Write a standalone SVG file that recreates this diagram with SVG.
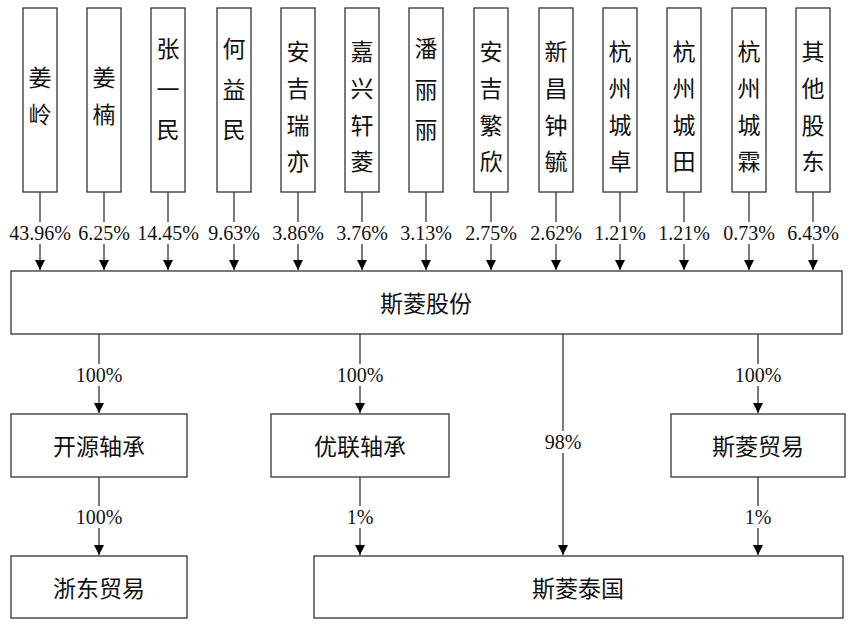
<svg xmlns="http://www.w3.org/2000/svg" width="852" height="624" viewBox="0 0 852 624">
<defs>
<marker id="ah" viewBox="0 0 10 10" refX="10" refY="5" markerWidth="10" markerHeight="10" markerUnits="userSpaceOnUse" orient="auto"><path d="M0,0 L10,5 L0,10 z" fill="#000"/></marker>
<style>
rect{fill:#fff;stroke:#333;stroke-width:1.3}
.c{font-family:"Noto Sans CJK SC",sans-serif;font-size:23px;fill:#111;text-anchor:middle;dominant-baseline:central}
.p{font-family:"Liberation Serif",serif;font-size:20px;fill:#111;text-anchor:middle;dominant-baseline:central}
line{stroke:#333;stroke-width:1.3}
.a{marker-end:url(#ah)}
</style>
</defs>
<rect x="0" y="0" width="852" height="624" style="fill:#fff;stroke:none"/>
<g id="top-nodes">
<g id="n1"><rect x="23" y="8" width="34" height="184"/><text class="c" x="40" y="76">姜</text><text class="c" x="40" y="113">岭</text></g>
<g id="n2"><rect x="87" y="8" width="34" height="184"/><text class="c" x="104" y="76">姜</text><text class="c" x="104" y="113">楠</text></g>
<g id="n3"><rect x="151" y="8" width="34" height="184"/><text class="c" x="168" y="47">张</text><text class="c" x="168" y="88">一</text><text class="c" x="168" y="128">民</text></g>
<g id="n4"><rect x="217" y="8" width="34" height="184"/><text class="c" x="234" y="47">何</text><text class="c" x="234" y="88">益</text><text class="c" x="234" y="128">民</text></g>
<g id="n5"><rect x="281" y="8" width="34" height="184"/><text class="c" x="298" y="50">安</text><text class="c" x="298" y="87">吉</text><text class="c" x="298" y="124">瑞</text><text class="c" x="298" y="160">亦</text></g>
<g id="n6"><rect x="345" y="8" width="34" height="184"/><text class="c" x="362" y="50">嘉</text><text class="c" x="362" y="87">兴</text><text class="c" x="362" y="124">轩</text><text class="c" x="362" y="160">菱</text></g>
<g id="n7"><rect x="409" y="8" width="34" height="184"/><text class="c" x="426" y="47">潘</text><text class="c" x="426" y="88">丽</text><text class="c" x="426" y="128">丽</text></g>
<g id="n8"><rect x="474" y="8" width="34" height="184"/><text class="c" x="491" y="50">安</text><text class="c" x="491" y="87">吉</text><text class="c" x="491" y="124">繁</text><text class="c" x="491" y="160">欣</text></g>
<g id="n9"><rect x="539" y="8" width="34" height="184"/><text class="c" x="556" y="50">新</text><text class="c" x="556" y="87">昌</text><text class="c" x="556" y="124">钟</text><text class="c" x="556" y="160">毓</text></g>
<g id="n10"><rect x="603" y="8" width="34" height="184"/><text class="c" x="620" y="50">杭</text><text class="c" x="620" y="87">州</text><text class="c" x="620" y="124">城</text><text class="c" x="620" y="160">卓</text></g>
<g id="n11"><rect x="667" y="8" width="34" height="184"/><text class="c" x="684" y="50">杭</text><text class="c" x="684" y="87">州</text><text class="c" x="684" y="124">城</text><text class="c" x="684" y="160">田</text></g>
<g id="n12"><rect x="732" y="8" width="34" height="184"/><text class="c" x="749" y="50">杭</text><text class="c" x="749" y="87">州</text><text class="c" x="749" y="124">城</text><text class="c" x="749" y="160">霖</text></g>
<g id="n13"><rect x="796" y="8" width="34" height="184"/><text class="c" x="813" y="50">其</text><text class="c" x="813" y="87">他</text><text class="c" x="813" y="124">股</text><text class="c" x="813" y="160">东</text></g>
</g>
<g id="silin"><rect x="11" y="271" width="831" height="63"/><text class="c" x="426" y="302">斯菱股份</text></g>
<g id="kaiyuan"><rect x="11" y="414" width="176" height="63"/><text class="c" x="99" y="445">开源轴承</text></g>
<g id="youlian"><rect x="271" y="414" width="178" height="63"/><text class="c" x="360" y="445">优联轴承</text></g>
<g id="maoyi"><rect x="671" y="414" width="174" height="63"/><text class="c" x="758" y="445">斯菱贸易</text></g>
<g id="zhedong"><rect x="11" y="556" width="176" height="62"/><text class="c" x="99" y="587">浙东贸易</text></g>
<g id="thai"><rect x="314" y="556" width="529" height="62"/><text class="c" x="578" y="587">斯菱泰国</text></g>
<g id="connectors">
<g id="c-top">
<line x1="40" y1="192" x2="40" y2="222"/><line class="a" x1="40" y1="244" x2="40" y2="270"/><text class="p" x="40" y="233">43.96%</text>
<line x1="104" y1="192" x2="104" y2="222"/><line class="a" x1="104" y1="244" x2="104" y2="270"/><text class="p" x="104" y="233">6.25%</text>
<line x1="168" y1="192" x2="168" y2="222"/><line class="a" x1="168" y1="244" x2="168" y2="270"/><text class="p" x="168" y="233">14.45%</text>
<line x1="234" y1="192" x2="234" y2="222"/><line class="a" x1="234" y1="244" x2="234" y2="270"/><text class="p" x="234" y="233">9.63%</text>
<line x1="298" y1="192" x2="298" y2="222"/><line class="a" x1="298" y1="244" x2="298" y2="270"/><text class="p" x="298" y="233">3.86%</text>
<line x1="362" y1="192" x2="362" y2="222"/><line class="a" x1="362" y1="244" x2="362" y2="270"/><text class="p" x="362" y="233">3.76%</text>
<line x1="426" y1="192" x2="426" y2="222"/><line class="a" x1="426" y1="244" x2="426" y2="270"/><text class="p" x="426" y="233">3.13%</text>
<line x1="491" y1="192" x2="491" y2="222"/><line class="a" x1="491" y1="244" x2="491" y2="270"/><text class="p" x="491" y="233">2.75%</text>
<line x1="556" y1="192" x2="556" y2="222"/><line class="a" x1="556" y1="244" x2="556" y2="270"/><text class="p" x="556" y="233">2.62%</text>
<line x1="620" y1="192" x2="620" y2="222"/><line class="a" x1="620" y1="244" x2="620" y2="270"/><text class="p" x="620" y="233">1.21%</text>
<line x1="684" y1="192" x2="684" y2="222"/><line class="a" x1="684" y1="244" x2="684" y2="270"/><text class="p" x="684" y="233">1.21%</text>
<line x1="749" y1="192" x2="749" y2="222"/><line class="a" x1="749" y1="244" x2="749" y2="270"/><text class="p" x="749" y="233">0.73%</text>
<line x1="813" y1="192" x2="813" y2="222"/><line class="a" x1="813" y1="244" x2="813" y2="270"/><text class="p" x="813" y="233">6.43%</text>
</g>
<line x1="99" y1="334" x2="99" y2="364"/><line class="a" x1="99" y1="386" x2="99" y2="413"/><text class="p" x="99" y="375">100%</text>
<line x1="360" y1="334" x2="360" y2="364"/><line class="a" x1="360" y1="386" x2="360" y2="413"/><text class="p" x="360" y="375">100%</text>
<line x1="758" y1="334" x2="758" y2="364"/><line class="a" x1="758" y1="386" x2="758" y2="413"/><text class="p" x="758" y="375">100%</text>
<line x1="563" y1="334" x2="563" y2="431"/><line class="a" x1="563" y1="453" x2="563" y2="555"/><text class="p" x="563" y="442">98%</text>
<line x1="99" y1="477" x2="99" y2="506"/><line class="a" x1="99" y1="528" x2="99" y2="555"/><text class="p" x="99" y="517">100%</text>
<line x1="360" y1="477" x2="360" y2="506"/><line class="a" x1="360" y1="528" x2="360" y2="555"/><text class="p" x="360" y="517">1%</text>
<line x1="758" y1="477" x2="758" y2="506"/><line class="a" x1="758" y1="528" x2="758" y2="555"/><text class="p" x="758" y="517">1%</text>
</g>
</svg>
